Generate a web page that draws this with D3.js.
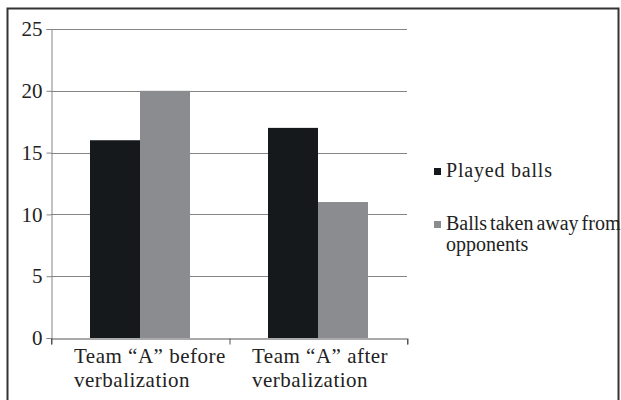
<!DOCTYPE html>
<html>
<head>
<meta charset="utf-8">
<script src="https://cdn.jsdelivr.net/npm/d3@7"></script>
<style>
  body { margin: 0; background: #fff; }
  svg text { font-family: "Liberation Serif", Tinos, "Times New Roman", "DejaVu Serif", serif !important; }
</style>
</head>
<body>
<div id="chart"></div>
<script>
// chart values
var categories = [["Team \u201cA\u201d before", "verbalization"], ["Team \u201cA\u201d after", "verbalization"]];
var seriesNames = ["Played balls", "Balls taken away from opponents"];
var playedBalls = [16, 17];
var ballsTaken = [20, 11];
var yTicks = [0, 5, 10, 15, 20, 25];
var colors = ["#16191c", "#8a8c8f"];

var W = 621, H = 400;
var margin = { top: 29, left: 51 },
  width = 356,
  height = 309;

var svg = d3.select("#chart")
  .append("svg")
  .attr("width", W)
  .attr("height", H);

// outer frame
svg.append("rect")
  .attr("x", 7.5).attr("y", 8.5)
  .attr("width", 611).attr("height", 420)
  .attr("fill", "#fff")
  .attr("stroke", "#333")
  .attr("stroke-width", 2);

var g = svg.append("g")
  .attr("transform", "translate(" + margin.left + "," + margin.top + ")");

var x0 = d3.scaleBand()
  .domain(d3.range(categories.length))
  .range([0, width]);

var x1 = d3.scaleBand()
  .domain([0, 1])
  .range([39, 139]);

var y = d3.scaleLinear()
  .domain([0, 25])
  .range([height, 0]);

// gridlines
g.selectAll(".grid")
  .data(yTicks.filter(function(d) { return d > 0; }))
  .enter().append("line")
  .attr("x1", 0).attr("x2", width)
  .attr("y1", function(d) { return Math.round(y(d)) + 0.5; })
  .attr("y2", function(d) { return Math.round(y(d)) + 0.5; })
  .attr("stroke", "#858585")
  .attr("stroke-width", 1);

// bars
var series = [playedBalls, ballsTaken];
var grp = g.selectAll(".grp")
  .data(categories)
  .enter().append("g")
  .attr("transform", function(d, i) { return "translate(" + x0(i) + ",0)"; });

grp.each(function(d, i) {
  d3.select(this).selectAll("rect")
    .data(series.map(function(s, k) { return { k: k, v: s[i] }; }))
    .enter().append("rect")
    .attr("x", function(e) { return x1(e.k); })
    .attr("width", x1.bandwidth())
    .attr("y", function(e) { return y(e.v); })
    .attr("height", function(e) { return height - y(e.v); })
    .attr("fill", function(e) { return colors[e.k]; });
});

// y axis
var yAxis = g.append("g")
  .attr("transform", "translate(0.5,0)")
  .call(d3.axisLeft(y).tickValues(yTicks).tickSize(5).tickPadding(4));
yAxis.attr("font-family", null);
yAxis.select(".domain").attr("stroke", "#858585");
yAxis.selectAll(".tick line").attr("stroke", "#858585");
yAxis.selectAll("text")
  .attr("fill", "#222")
  .style("font-size", "21px");

// x axis
var xAxis = g.append("g")
  .attr("transform", "translate(0," + (height + 0.5) + ")")
  .call(d3.axisBottom(d3.scaleLinear().domain([0, categories.length]).range([0, width]))
    .tickValues(d3.range(categories.length + 1)).tickSize(6).tickFormat(""));
xAxis.select(".domain").attr("stroke", "#555");
xAxis.selectAll(".tick line").attr("stroke", "#555").attr("transform", "translate(0.5,0)");

// category labels
g.selectAll(".cat")
  .data(categories)
  .enter().append("text")
  .attr("class", "cat")
  .attr("x", function(d, i) { return x0(i) + 23; })
  .attr("y", height + 25)
  .attr("fill", "#222")
  .style("font-size", "21px")
  .style("letter-spacing", "0.5px")
  .selectAll("tspan")
  .data(function(d) { return d; })
  .enter().append("tspan")
  .attr("x", function() { return d3.select(this.parentNode).attr("x"); })
  .attr("dy", function(d, j) { return j ? 24 : 0; })
  .text(function(d) { return d; });

// legend
var legend = svg.append("g");
var legY = [177, 230];
seriesNames.forEach(function(name, k) {
  legend.append("rect")
    .attr("x", 434).attr("y", legY[k] - 9)
    .attr("width", 7).attr("height", 7)
    .attr("fill", colors[k]);
});
legend.append("text")
  .attr("x", 446).attr("y", legY[0])
  .attr("fill", "#222")
  .style("font-size", "20px")
  .style("letter-spacing", "0.8px")
  .text(seriesNames[0]);
var t2 = legend.append("text")
  .attr("x", 446).attr("y", legY[1])
  .attr("fill", "#222")
  .style("font-size", "20px")
  .style("word-spacing", "-2px");
t2.append("tspan").attr("x", 446).text("Balls taken away from");
t2.append("tspan").attr("x", 446).attr("dy", 21).text("opponents");
</script>
</body>
</html>
